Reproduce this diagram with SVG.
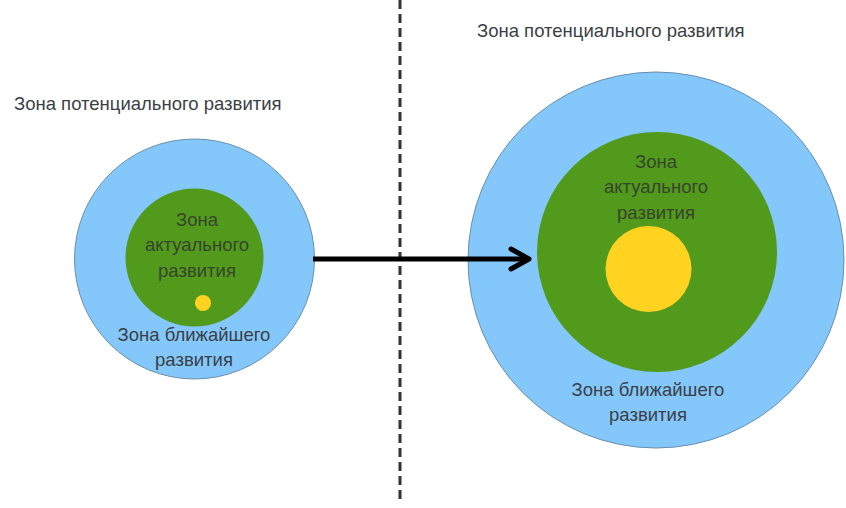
<svg xmlns="http://www.w3.org/2000/svg" width="846" height="508" viewBox="0 0 846 508">
<style>
text{font-family:"Liberation Sans",Arial,sans-serif;font-size:18.5px;fill:#3a3f46}
.c{text-anchor:middle}
.g{fill:#36452c}
.blue{fill:#84c7fb;stroke:#6a8fae;stroke-width:1}
.green{fill:#529a1c}
.yel{fill:#ffd320}
</style>
<defs><marker id="ah" markerWidth="8" markerHeight="10" refX="6" refY="5" orient="auto" markerUnits="userSpaceOnUse" overflow="visible"><path d="M-12,-5 L6,5 L-12,15" fill="none" stroke="#000" stroke-width="5" stroke-linecap="round" stroke-linejoin="round"/></marker></defs>
<rect width="846" height="508" fill="#fff"/>
<line x1="400" y1="0" x2="400" y2="500" stroke="#333" stroke-width="3" stroke-dasharray="9,5"/>
<g id="left">
<text x="14" y="110">Зона потенциального развития</text>
<circle class="blue" cx="194.5" cy="259" r="120"/>
<circle class="green" cx="194.5" cy="257.5" r="69"/>
<circle class="yel" cx="203" cy="303" r="8"/>
<text class="c g" x="197" y="226">Зона</text>
<text class="c g" x="197" y="251">актуального</text>
<text class="c g" x="197" y="277">развития</text>
<text class="c" x="194" y="341">Зона ближайшего</text>
<text class="c" x="194" y="366">развития</text>
</g>
<g id="right">
<text x="477" y="37">Зона потенциального развития</text>
<circle class="blue" cx="656" cy="260" r="188"/>
<circle class="green" cx="657" cy="252" r="120"/>
<circle class="yel" cx="648.5" cy="269" r="43"/>
<text class="c g" x="656" y="168">Зона</text>
<text class="c g" x="656" y="193">актуального</text>
<text class="c g" x="656" y="219">развития</text>
<text class="c" x="648" y="396">Зона ближайшего</text>
<text class="c" x="648" y="421">развития</text>
</g>
<g id="connectors">
<line x1="313" y1="259" x2="529" y2="259" stroke="#000" stroke-width="5" marker-end="url(#ah)"/>
</g>
</svg>
